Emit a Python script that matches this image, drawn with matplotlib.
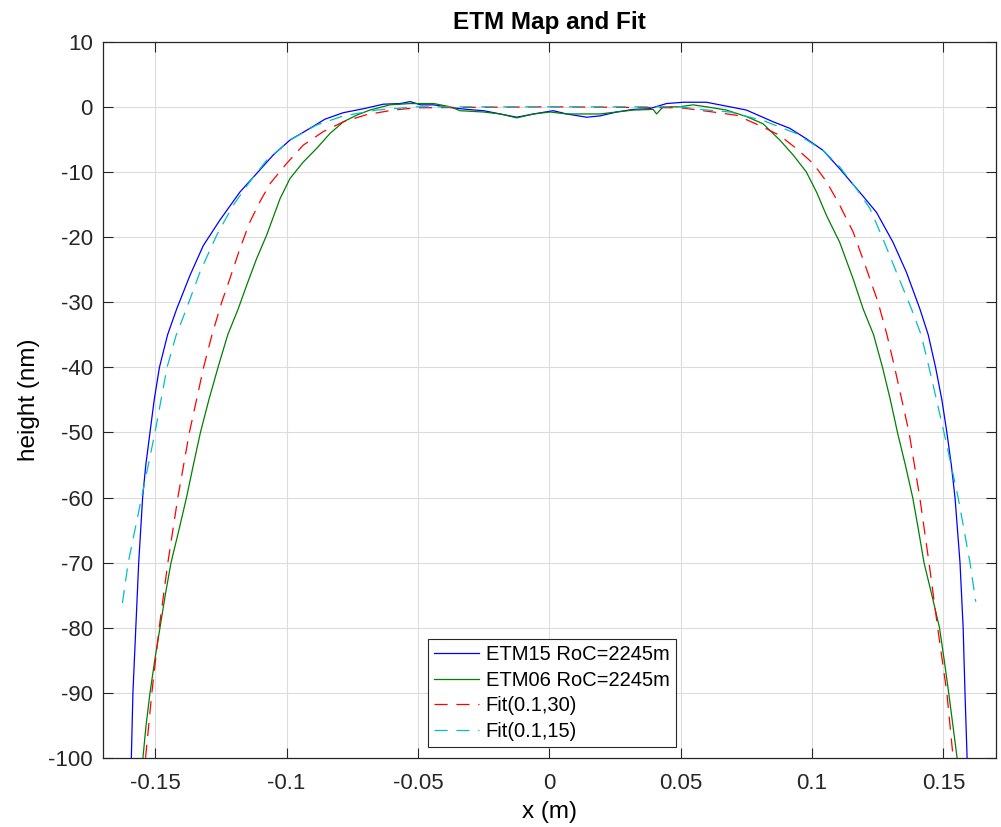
import numpy as np
import matplotlib
matplotlib.use("Agg")
from matplotlib import pyplot as plt

# ETM15 measured profile (x in m, height in nm)
etm15_x = [-0.1598, -0.1591, -0.1585, -0.1574, -0.1563, -0.1548, -0.1536, -0.1520, -0.1504,
           -0.1484, -0.1453, -0.1418, -0.1368, -0.1317, -0.1254, -0.1178, -0.1102, -0.1051,
           -0.0987, -0.0911, -0.0854, -0.0784, -0.0708, -0.0632, -0.0567, -0.0530, -0.0490,
           -0.0440, -0.0377, -0.0314, -0.0250, -0.0187, -0.0124, -0.0060, 0.0015, 0.0066,
           0.0142, 0.0192, 0.0256, 0.0319, 0.0380, 0.0446, 0.0510, 0.0598, 0.0687, 0.0750,
           0.0852, 0.0915, 0.0978, 0.1042, 0.1105, 0.1181, 0.1245, 0.1308, 0.1359, 0.1410,
           0.1442, 0.1470, 0.1494, 0.1513, 0.1530, 0.1544, 0.1563, 0.1575, 0.1582, 0.1590,
           0.1596]
etm15_y = [-110, -100, -90, -80, -70, -60, -55, -50, -45,
           -40, -35, -31, -25.9, -21.3, -17.4, -13.1, -9.7, -7.4,
           -5.1, -3.3, -1.9, -0.9, -0.3, 0.4, 0.5, 0.8, 0.3,
           0.3, -0.1, -0.4, -0.6, -1.1, -1.6, -1.1, -0.6, -1.1,
           -1.6, -1.4, -0.8, -0.4, -0.3, 0.5, 0.7, 0.7, 0.0, -0.5,
           -2.3, -3.3, -4.9, -6.7, -9.5, -13.1, -16.2, -20.8, -25.4, -31,
           -35, -40, -45, -50, -55, -60, -70, -80, -90, -100,
           -110]

# ETM06 measured profile
etm06_x = [-0.1565, -0.1547, -0.1535, -0.1520, -0.1502, -0.1482, -0.1462, -0.1440, -0.1410,
           -0.1381, -0.1355, -0.1328, -0.1296, -0.1261, -0.1224, -0.1184, -0.1152, -0.1114,
           -0.1076, -0.1025, -0.0987, -0.0937, -0.0886, -0.0835, -0.0784, -0.0734, -0.0683,
           -0.0607, -0.0530, -0.0440, -0.0377, -0.0340, -0.0250, -0.0187, -0.0124, -0.0060,
           0.0003, 0.0066, 0.0192, 0.0319, 0.0395, 0.0408, 0.0433, 0.0496, 0.0547, 0.0598,
           0.0674, 0.0750, 0.0813, 0.0877, 0.0928, 0.0978, 0.1017, 0.1055, 0.1105, 0.1156,
           0.1194, 0.1234, 0.1268, 0.1298, 0.1325, 0.1355, 0.1383, 0.1405, 0.1426, 0.1456,
           0.1485, 0.1503, 0.1520, 0.1552, 0.1570]
etm06_y = [-110, -100, -95, -90, -85, -80, -75, -70, -65,
           -60, -55, -50, -45, -40, -35, -31, -27.4, -23.3,
           -19.7, -14.1, -11.0, -8.5, -6.4, -4.1, -2.3, -1.3, -0.5,
           0.3, 0.5, 0.5, 0.0, -0.6, -0.8, -1.1, -1.7, -1.1,
           -0.8, -1.1, -1.1, -0.5, -0.4, -1.1, 0.0, 0.0, 0.3, 0.0,
           -0.5, -1.5, -2.6, -5.1, -7.4, -10.0, -13.1, -16.7, -20.8, -26.4,
           -31, -35, -40, -45, -50, -55, -60, -65, -70, -75,
           -80, -85, -90, -100, -110]

# Fit(0.1,30)
fit30_x = [-0.1560, -0.1537, -0.1513, -0.1485, -0.1452, -0.1414, -0.1370, -0.1316, -0.1284,
           -0.1247, -0.1216, -0.1178, -0.1140, -0.1102, -0.1063, -0.1000, -0.0937, -0.0860,
           -0.0784, -0.0695, -0.0594, -0.0505, 0.0, 0.0500, 0.0623, 0.0712, 0.0813, 0.0877,
           0.0940, 0.1004, 0.1055, 0.1105, 0.1156, 0.1207, 0.1251, 0.1285, 0.1314, 0.1369,
           0.1410, 0.1445, 0.1478, 0.1513, 0.1537, 0.1560]
fit30_y = [-110, -100, -90, -80, -70, -60, -50, -40, -35,
           -30, -26.4, -21.8, -17.7, -14.6, -11.8, -8.7, -5.9, -3.8,
           -2.3, -1.2, -0.5, -0.15, 0.0, -0.15, -0.8, -1.3, -3.1, -4.4,
           -6.4, -8.7, -11.5, -15.1, -19.2, -24.9, -30, -35, -40, -50,
           -60, -70, -80, -90, -100, -110]

# Fit(0.1,15)
fit15_x = [-0.1625, -0.1603, -0.1552, -0.1501, -0.1455, -0.1420, -0.1381, -0.1330, -0.1266,
           -0.1203, -0.1140, -0.1076, -0.0987, -0.0886, -0.0784, -0.0657, -0.0505, 0.0,
           0.0500, 0.0560, 0.0687, 0.0813, 0.0940, 0.1042, 0.1105, 0.1169, 0.1220, 0.1270,
           0.1321, 0.1378, 0.1415, 0.1445, 0.1502, 0.1556, 0.1601, 0.1623]
fit15_y = [-76.2, -70, -60, -50, -40, -35, -31, -25.4, -19.7,
           -15.1, -11.5, -8.2, -5.1, -2.8, -1.4, -0.5, 0.0, 0.0,
           0.0, -0.36, -0.8, -2.1, -4.1, -6.7, -9.2, -12.6, -15.6, -20.3,
           -25.4, -31, -35, -40, -50, -60, -70, -76]

legend_labels = ["ETM15 RoC=2245m", "ETM06 RoC=2245m", "Fit(0.1,30)", "Fit(0.1,15)"]
xticks = [-0.15, -0.1, -0.05, 0, 0.05, 0.1, 0.15]
xtick_labels = ["-0.15", "-0.1", "-0.05", "0", "0.05", "0.1", "0.15"]
yticks = [10, 0, -10, -20, -30, -40, -50, -60, -70, -80, -90, -100]


def main():
    plt.rcParams["font.family"] = ["Liberation Sans", "DejaVu Sans"]
    plt.rcParams["axes.unicode_minus"] = False

    fig = plt.figure(figsize=(10.01, 8.27), dpi=100)
    ax = fig.add_axes([0.1026, 0.0834, 0.8924, 0.8662])

    ax.plot(etm15_x, etm15_y, color="#0000ff", lw=0.9, label=legend_labels[0])
    ax.plot(etm06_x, etm06_y, color="#007f00", lw=0.9, label=legend_labels[1])
    ax.plot(fit30_x, fit30_y, color="#ff0000", lw=0.9, dashes=(10.5, 7), label=legend_labels[2])
    ax.plot(fit15_x, fit15_y, color="#00c0c0", lw=0.9, dashes=(10.5, 7), label=legend_labels[3])

    ax.set_xlim(-0.17, 0.17)
    ax.set_ylim(-100, 10)
    ax.set_xticks(xticks)
    ax.set_xticklabels(xtick_labels)
    ax.set_yticks(yticks)
    ax.tick_params(direction="in", length=7, width=0.8, top=True, right=True,
                   labelsize=16, colors="#262626", pad=7)
    ax.tick_params(axis="x", pad=11)
    ax.grid(True, color="#dcdcdc", lw=0.8)
    ax.set_axisbelow(True)
    for sp in ax.spines.values():
        sp.set_color("#262626")
        sp.set_linewidth(0.9)

    ax.set_title("ETM Map and Fit", fontsize=17.5, fontweight="bold", pad=9)
    ax.set_xlabel("x (m)", fontsize=17.5, labelpad=5)
    ax.set_ylabel("height (nm)", fontsize=17.5, labelpad=6)

    leg = ax.legend(loc="lower center", bbox_to_anchor=(0.503, 0.0154), fontsize=14.5,
                    fancybox=False, framealpha=1, edgecolor="#262626",
                    handlelength=2.2, handletextpad=0.35, borderpad=0.3, labelspacing=0.33,
                    borderaxespad=0)
    leg.get_frame().set_linewidth(0.8)

    plt.savefig("out.png", dpi=100)


if __name__ == "__main__":
    main()
